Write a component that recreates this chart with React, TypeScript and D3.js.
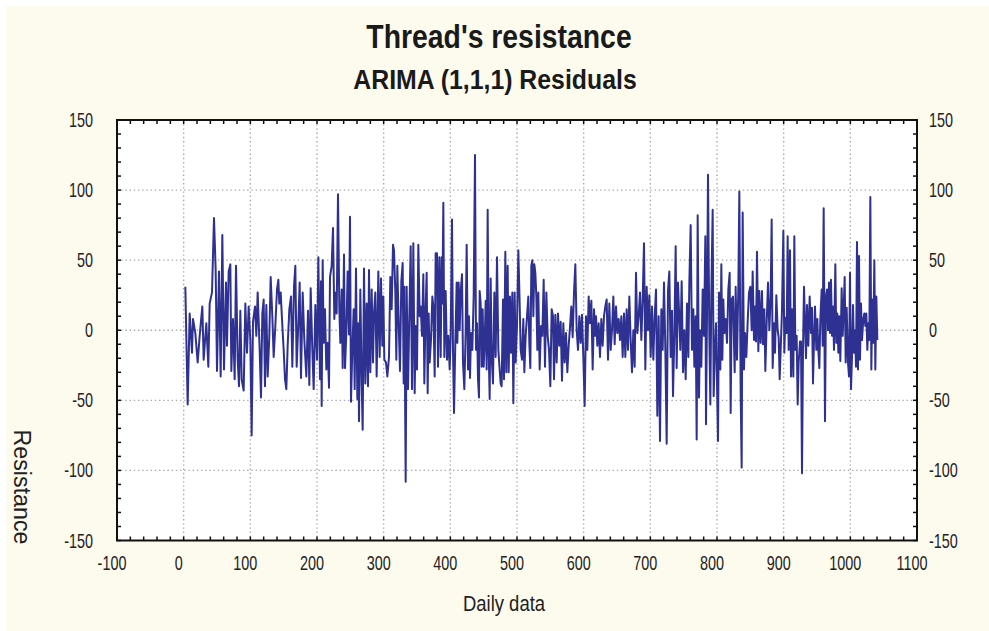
import React from "react";
import * as d3 from "d3";

// ---- data: [day, residual] pairs, in five stretches ----
const seg1: [number, number][] = [
  [2.5,31],[6,-53],[9,12],[12.5,-16],[14,8],[17.5,-2],[21,-23],[24,-4],[28,17],[30,-21],
  [34,5],[37,-26],[39,19],[42.5,27],[45.5,80],[48,43],[50,-29],[53,42],[55.5,-33],[58,68],
  [60.5,-28],[63.5,34],[65,-11],[67.5,42],[70,47],[71.5,-29],[74,8],[76.5,-35],[78.5,46],[81,-21],
  [83,-40],[85,14],[87,-35],[90,-43],[92.5,19],[95,-16],[97.5,17],[100,-7],[102,-75],[104,6],
  [107,17],[109,-4],[111,27],[114,-14],[116,-48],[118,12],[120,22],[122,-40],[124,18],[126,-33],
  [128.5,-4],[130.5,38],[133,10],[135,-19],[137.5,3],[140,29],[142,36],[143.5,19],[145.5,27],[147.5,8],
  [150,-14],[152,-35],[154,-42],[156,-11],[158.5,15],[161,24],[163,-26],[165.5,31],[167.5,46],[169.5,-26],
  [172,5],[174,34],[176,-34],[178.5,27],[181,-7],[184,-33],[186.5,14],[188.5,-39],[190.5,30],[193,-14],
  [195,-42],[197.5,18],[200,-21],[202,52],
];
const seg2: [number, number][] = [
  [204.5,-35],[206,35],[207,-54],[208.5,50],[210,-9],[212,15],[214,-28],[216,-9],[218,-41],[219.5,38],
  [222,46],[224,73],[226,8],[228,27],[229.5,12],[231.5,97],[233.5,15],[235,-9],[237,29],[238.5,-27],
  [240.5,54],[242,-27],[244,-2],[246,42],[248,-3],[249.5,81],[251,-51],[253,-14],[255,15],[256.5,-42],
  [258.5,44],[260.5,-49],[262,5],[263,-65],[265,29],[267,-38],[268.5,-71],[270.5,44],[272.5,-38],[274.5,19],
  [276.5,-40],[278,43],[280,-30],[282,29],[284,-23],[285.5,12],[287.5,27],[289.5,-33],[292,42],[294,-19],
  [296,37],[298,-11],[299.5,24],[301,-21],[303.5,-23],[305.5,-33],[308,-19],[310,38],[312,15],[314,61],
  [315.5,57],[317.5,27],[319,-21],[320.5,46],[322.5,5],[324.5,-29],[326.5,35],[328.5,48],[330,-38],[331,31],
  [333,-108],[334.5,31],[336.5,-42],[338.5,10],[340.5,60],[342.5,-42],[344.5,62],[346.5,-45],[348,3],[350,-28],
  [352,61],[354,10],[355.5,17],[357.5,-4],[359.5,40],[361,-38],[363,17],[364.5,41],[366,-45],[367.5,12],
  [369,-23],[371,-7],[373,24],[374.5,17],[376.5,-33],[378,55],[380,55],[381.5,-26],[383.5,52],[385.5,-19],
  [387,52],[388,19],[389.5,91],[391,-19],[393,28],[395,-21],[397,-4],[399,-28],[400.5,-4],[402.5,79],
  [404,-14],[405.5,-59],[407.5,-8],[409.5,34],
];
const seg3: [number, number][] = [
  [410.5,-9],[412.5,34],[414,0],[415.5,27],[417.5,40],[419,-23],[421,-42],[423,-1],[424.5,61],[426.5,-28],
  [428,10],[429.5,-34],[431,-2],[433,-14],[435,24],[437,125],[438.5,-14],[440,5],[441.5,-35],[443,-48],
  [444,28],[445.5,19],[447,-26],[448.5,15],[450,-26],[451.5,-9],[453,21],[454.5,-28],[456,86],[457.5,-14],
  [459,-49],[460.5,37],[462,-19],[464,-38],[466,27],[468,-19],[470,52],[472,-14],[474,-28],[475.5,-38],
  [477,-40],[479,22],[480.5,-35],[482.5,56],[484,-30],[486,46],[487.5,-30],[489.5,24],[491,-16],[493,27],
  [494.5,-52],[496.5,27],[498,-23],[500,4],[502,57],[504,19],[505.5,-14],[507.5,-21],[509.5,8],[511,-30],
  [513,-4],[515,10],[517,24],[518.5,-9],[520,-27],[521.5,46],[523,50],[524.5,10],[526,47],[527.5,41],
  [529,24],[530.5,-14],[532,27],[534,-28],[536,3],[538,-4],[540,36],[542,-26],[544,27],[546,-4],
  [548,-14],[550,-40],[552,15],[554,10],[555.5,-35],[557.5,11],[559.5,-23],[561.5,12],[563.5,-11],[565.5,6],
  [567.5,-36],[569.5,5],[571.5,-23],[573.5,-2],[575.5,-30],[577.5,-11],[579.5,2],[581.5,17],[583.5,-5],[585.5,27],
  [587.5,47],[589.5,0],[591.5,-14],[593.5,10],[595.5,-9],[597.5,11],[599.5,-19],[601.5,-54],[603.5,10],[605.5,-14],
  [607.5,24],[609.5,5],[611.5,21],[613.5,-28],[615.5,15],[617.5,-4],
];
const seg4: [number, number][] = [
  [618.5,10],[620.5,-11],[622.5,5],[624.5,-19],[626.5,8],[628.5,-11],[630.5,10],[632.5,17],[634.5,22],[636.5,-21],
  [638.5,19],[640.5,-14],[642.5,0],[644.5,24],[646.5,-10],[648.5,17],[650.5,-2],[652.5,8],[654.5,-7],[656.5,10],
  [658.5,-19],[660.5,12],[662.5,-19],[664.5,15],[666.5,-14],[668.5,24],[670.5,-7],[672.5,-30],[674.5,0],[676.5,-26],
  [678.5,41],[680.5,-2],[682.5,10],[684.5,27],[686.5,-7],[688.5,22],[690.5,62],[692.5,-28],[694.5,31],[696.5,0],
  [698.5,25],[700.5,-19],[702.5,17],[704.5,-21],[706.5,10],[708.5,29],[710.5,-61],[712.5,10],[714.5,-79],[716.5,15],
  [718.5,-14],[720.5,34],[722.5,-13],[724.5,-81],[726.5,28],[728.5,42],[730.5,-19],[732.5,14],[734,-47],[736,-4],
  [738,60],[739.5,-27],[741.5,34],[743.5,8],[745,-14],[747,35],[749,-30],[751,0],[753,-35],[755,19],
  [757,-19],[758.5,34],[760.5,75],[762.5,-14],[764.5,15],[766,-26],[768,10],[769.5,-78],[771,82],[773,-48],
  [774.5,0],[776.5,-26],[778.5,29],[780.5,-4],[782.5,67],[783.5,-67],[785,10],[786.5,111],[788.5,-4],[790,-53],
  [791.5,27],[793.5,86],[795,-47],[796.5,-19],[798.5,5],[800,-38],[801.5,-79],[803,27],[805,-28],[806.5,47],
  [808,-21],[809.5,22],[811,-2],[813,8],[815,-9],[817,29],[819,41],[820.5,-59],[822,22],[824,24],
];
const seg5: [number, number][] = [
  [826.5,-30],[828,31],[830,-21],[832,31],[833.5,99],[835.5,-45],[837,-98],[838.5,84],[840.5,-28],[842,-2],
  [844,-19],[846,6],[848,27],[850,31],[852,0],[853.5,42],[855.5,-7],[857,17],[858.5,-8],[860,56],
  [862,-15],[863.5,28],[865.5,-9],[867.5,28],[869,-10],[871,15],[872.5,-29],[874.5,5],[876.5,34],[878.5,0],
  [880.5,24],[882,79],[883.5,-27],[885.5,5],[887,-16],[889,25],[891,0],[892.5,-5],[894,-35],[896,-7],
  [897.5,14],[899.5,71],[901,-16],[902.5,9],[904.5,-2],[906,67],[907.5,-14],[909.5,57],[911,-33],[912.5,15],
  [914.5,-33],[916,67],[917.5,-14],[919.5,-4],[921,-53],[922.5,-23],[924.5,-8],[926,-8],[927.5,-102],[929,-14],
  [930.5,31],[932,5],[933.5,-20],[935,18],[937,-11],[939,24],[941,-2],[942.5,16],[944,-38],[945.5,-7],
  [947,17],[949,-14],[950.5,8],[952,-14],[953.5,-27],[955,8],[957,29],[958.5,-11],[960,87],[962,-65],
  [963.5,24],[965,29],[966.5,0],[968,34],[969.5,-2],[971,36],[972.5,-4],[974,17],[975.5,-14],[977.5,47],
  [979,-9],[980.5,12],[982,-16],[983.5,10],[985,-22],[987,30],[988.5,-4],[990,15],[991.5,38],[993,-23],
  [994.5,16],[996.5,-23],[998,-33],[999.5,41],[1001,-42],[1002.5,-19],[1004,18],[1005.5,-16],[1007,0],[1008.5,-26],
  [1010,63],[1011.5,-28],[1013,53],[1014.5,-21],[1016,19],[1017.5,-7],[1019.5,8],[1021,12],[1022.5,3],[1024,12],
  [1025.5,-14],[1027,5],[1028.5,-7],[1030,95],[1031.5,-28],[1033,22],[1034.5,-9],[1036,50],[1037.5,-28],[1039,24],
  [1040.5,-7],
];

const xTicks = [-100, 0, 100, 200, 300, 400, 500, 600, 700, 800, 900, 1000, 1100];
const yTicks = [-150, -100, -50, 0, 50, 100, 150];
const xGrid = [0, 100, 200, 300, 400, 500, 600, 700, 800, 900, 1000];
const yGrid = [-100, -50, 0, 50, 100];

const title = "Thread's resistance";
const subtitle = "ARIMA (1,1,1) Residuals";
const xLabel = "Daily data";
const yLabel = "Resistance";

const W = 989;
const H = 631;
const FONT = "'Liberation Sans', Arial, Helvetica, sans-serif";

export default function App() {
  const data = [...seg1, ...seg2, ...seg3, ...seg4, ...seg5];
  const x = d3.scaleLinear().domain([-100, 1100]).range([117, 917]);
  const y = d3.scaleLinear().domain([-150, 150]).range([540.5, 120]);
  const line = d3
    .line<[number, number]>()
    .x((d) => x(d[0]))
    .y((d) => y(d[1]));

  const minorX = d3.range(-100, 1100.1, 20);
  const minorY = d3.range(-150, 150.1, 10);
  const [x0, x1] = x.range();
  const [y0, y1] = y.range(); // y0 bottom, y1 top
  const tl = 4;

  return (
    <svg
      width={W}
      height={H}
      style={{ position: "absolute", left: 0, top: 0, display: "block" }}
      fontFamily={FONT}
    >
      <rect x={0} y={0} width={W} height={H} fill="#ffffff" />
      <rect x={6} y={6} width={W - 6} height={H - 6} fill="#fdfaee" />

      {/* titles */}
      <text
        transform={`translate(499,48) scale(0.86,1)`}
        textAnchor="middle"
        fontWeight="bold"
        fontSize={33}
        fill="#1a1a1a"
      >
        {title}
      </text>
      <text
        transform={`translate(495,89) scale(0.92,1)`}
        textAnchor="middle"
        fontWeight="bold"
        fontSize={27}
        fill="#1a1a1a"
      >
        {subtitle}
      </text>

      {/* plot area */}
      <rect x={x0} y={y1} width={x1 - x0} height={y0 - y1} fill="#ffffff" />

      {/* grid */}
      <g stroke="#a9a9a9" strokeWidth={1.4} strokeDasharray="1.4 2.8">
        {xGrid.map((v) => (
          <line key={"gx" + v} x1={x(v)} x2={x(v)} y1={y1} y2={y0} />
        ))}
        {yGrid.map((v) => (
          <line key={"gy" + v} x1={x0} x2={x1} y1={y(v)} y2={y(v)} />
        ))}
      </g>

      {/* series */}
      <path
        d={line(data) || ""}
        fill="none"
        stroke="#2e3192"
        strokeWidth={2}
        strokeLinejoin="round"
      />

      {/* minor ticks, inward on all four sides */}
      <g stroke="#111" strokeWidth={1.5}>
        {minorX.map((v) => (
          <g key={"tx" + v}>
            <line x1={x(v)} x2={x(v)} y1={y0} y2={y0 - tl} />
            <line x1={x(v)} x2={x(v)} y1={y1} y2={y1 + tl} />
          </g>
        ))}
        {minorY.map((v) => (
          <g key={"ty" + v}>
            <line x1={x0} x2={x0 + tl} y1={y(v)} y2={y(v)} />
            <line x1={x1} x2={x1 - tl} y1={y(v)} y2={y(v)} />
          </g>
        ))}
      </g>

      {/* frame */}
      <rect
        x={x0}
        y={y1}
        width={x1 - x0}
        height={y0 - y1}
        fill="none"
        stroke="#111"
        strokeWidth={2}
      />

      {/* tick labels */}
      <g fontSize={20} fill="#222">
        {xTicks.map((v) => (
          <text
            key={"lx" + v}
            transform={`translate(${x(v) - 5},570) scale(0.72,1)`}
            textAnchor="middle"
          >
            {v}
          </text>
        ))}
        {yTicks.map((v) => (
          <text
            key={"ly" + v}
            transform={`translate(93,${y(v) + 7}) scale(0.72,1)`}
            textAnchor="end"
          >
            {v}
          </text>
        ))}
        {yTicks.map((v) => (
          <text
            key={"ry" + v}
            transform={`translate(929,${y(v) + 7}) scale(0.72,1)`}
            textAnchor="start"
          >
            {v}
          </text>
        ))}
      </g>

      {/* axis titles */}
      <text
        transform={`translate(504,611) scale(0.84,1)`}
        textAnchor="middle"
        fontSize={22}
        fill="#222"
      >
        {xLabel}
      </text>
      <text
        transform={`translate(14,487) rotate(90) scale(0.97,1)`}
        textAnchor="middle"
        fontSize={24}
        fill="#222"
      >
        {yLabel}
      </text>
    </svg>
  );
}
